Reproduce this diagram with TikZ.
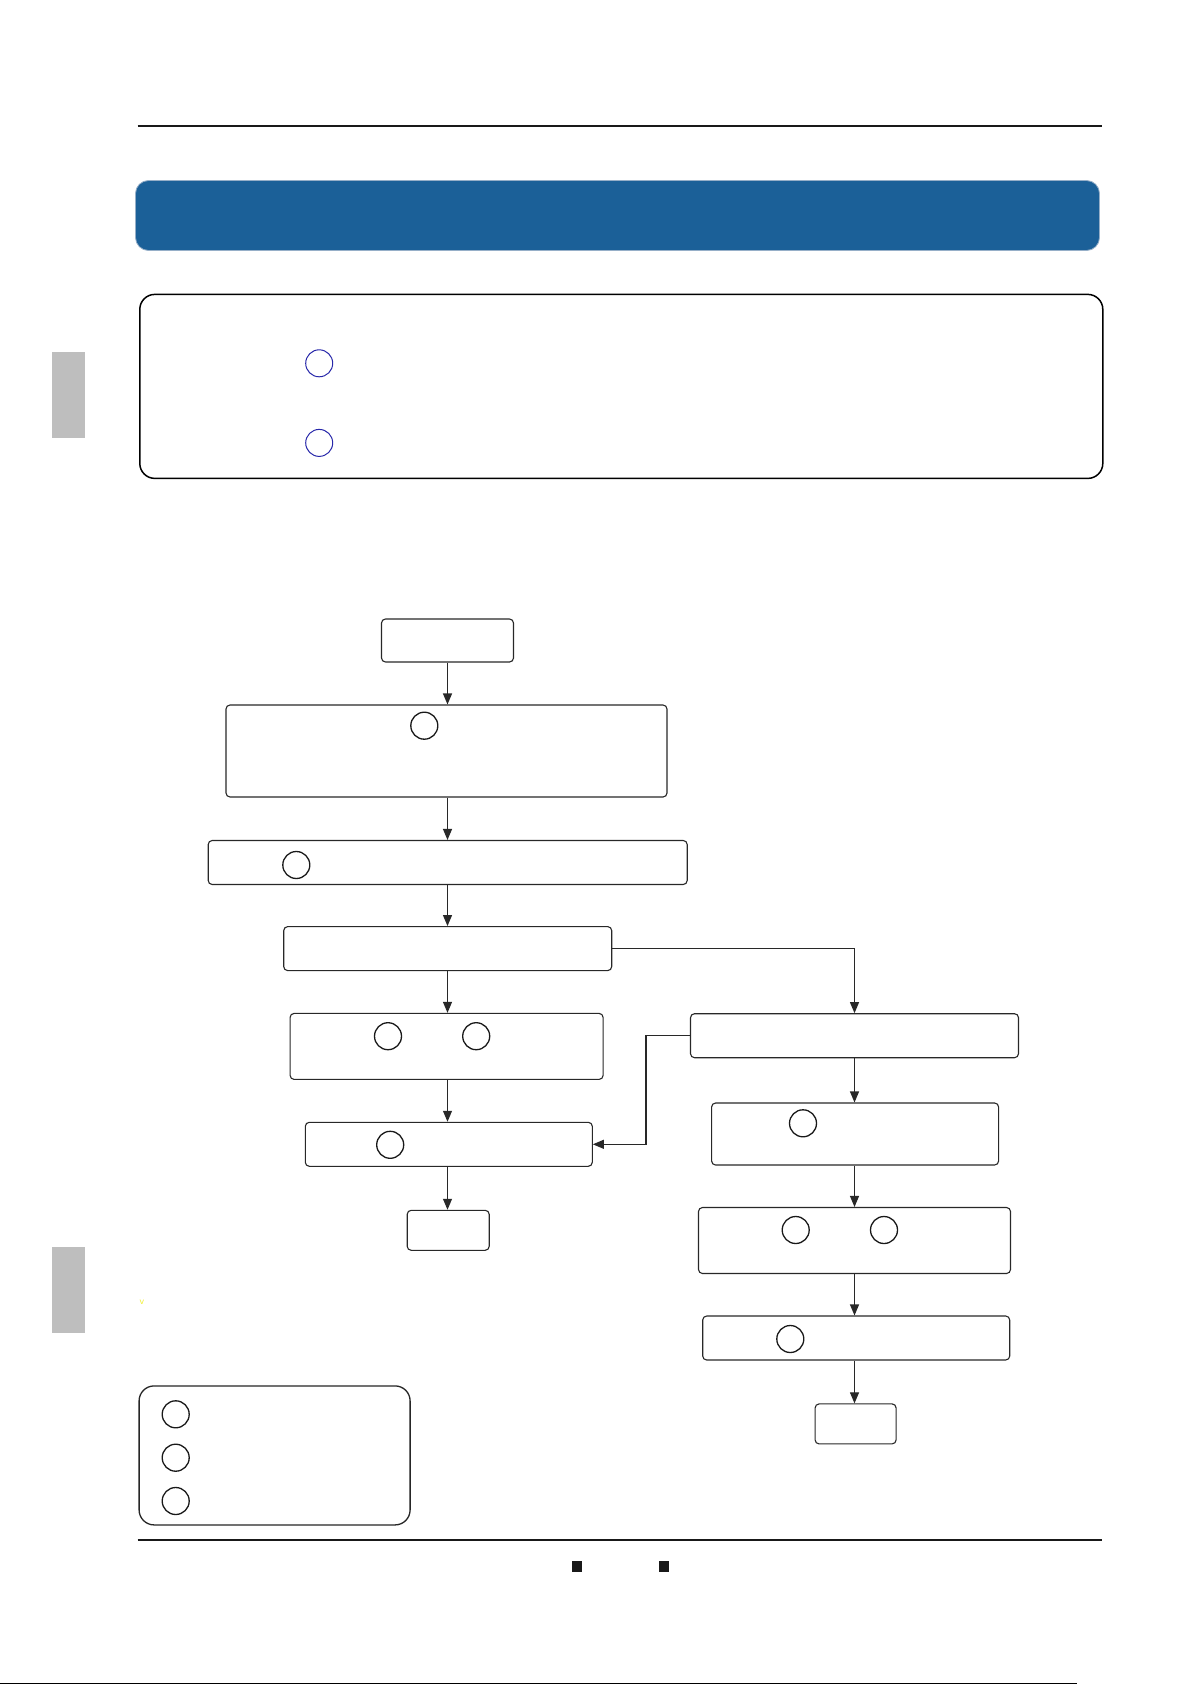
\documentclass[tikz,border=0pt]{standalone}
\usetikzlibrary{arrows.meta}
\definecolor{banner}{RGB}{27,96,152}
\definecolor{bannerrim}{RGB}{150,175,200}
\definecolor{tabgray}{RGB}{190,190,190}
\definecolor{linegray}{RGB}{40,40,40}
\definecolor{ringblue}{RGB}{40,40,170}
\definecolor{markyellow}{RGB}{240,240,40}
\tikzset{
  fbox/.style={draw=linegray, line width=1.1pt, rounded corners=4pt, inner sep=0pt, fill=white},
  ring/.style={draw=black!90, line width=1.3pt, circle, minimum size=27pt, inner sep=0pt},
  bluering/.style={draw=ringblue, line width=1pt, circle, minimum size=27pt, inner sep=0pt},
  arr/.style={draw=linegray, line width=1.1pt, -{Triangle[length=11pt,width=9pt]}},
  rulestyle/.style={draw=black!90, line width=1.6pt},
}
\begin{document}
\begin{tikzpicture}[x=1pt,y=-1pt]
\useasboundingbox (0,0) rectangle (1192,1685);
\fill[white] (0,0) rectangle (1192,1685);
% header rule
\draw[rulestyle] (137.6,125.8) -- (1101.8,125.8);
% banner
\node[fill=banner, draw=bannerrim, line width=0.8pt, rounded corners=13pt, minimum width=964pt, minimum height=70pt, inner sep=0pt] (banner) at (617.5,215.5) {};
% info box
\node[draw=black, line width=1.5pt, rounded corners=15pt, minimum width=963pt, minimum height=184pt, inner sep=0pt] (info) at (621.3,386.4) {};
\node[bluering] (ib1) at (319.2,363.3) {};
\node[bluering] (ib2) at (319.2,442.9) {};
% side tabs
\fill[tabgray] (51.6,351.5) rectangle (84.9,437.5);
\fill[tabgray] (51.6,1246.9) rectangle (84.9,1332.9);
% tiny yellow mark
\node[text=markyellow, font=\sffamily\fontsize{10}{10}\selectfont, inner sep=0pt] (ymark) at (142,1302.5) {v};
% flowchart boxes
\node[fbox, minimum width=132pt, minimum height=43pt] (start) at (447.5,640.5) {};
\node[fbox, minimum width=441pt, minimum height=92pt] (b2) at (446.5,751) {};
\node[ring] (c2) at (424.3,725.7) {};
\node[fbox, minimum width=479pt, minimum height=44pt] (b3) at (447.7,862.5) {};
\node[ring] (c3) at (296.3,865) {};
\node[fbox, minimum width=328pt, minimum height=44pt] (b4) at (447.7,948.6) {};
\node[fbox, minimum width=313pt, minimum height=66pt] (b5) at (446.6,1046.4) {};
\node[ring] (c5a) at (388,1036.2) {};
\node[ring] (c5b) at (476.2,1036.2) {};
\node[fbox, minimum width=287pt, minimum height=44pt] (b6) at (448.8,1144.3) {};
\node[ring] (c6) at (390.2,1144.8) {};
\node[fbox, minimum width=82pt, minimum height=40pt] (endL) at (448.2,1230.3) {};
\node[fbox, minimum width=328pt, minimum height=44pt] (b7) at (854.5,1035.7) {};
\node[fbox, minimum width=287pt, minimum height=62pt] (b8) at (855.1,1134) {};
\node[ring] (c8) at (803,1123.3) {};
\node[fbox, minimum width=312pt, minimum height=66pt] (b9) at (854.5,1240.5) {};
\node[ring] (c9a) at (795.7,1230) {};
\node[ring] (c9b) at (884,1230) {};
\node[fbox, minimum width=307pt, minimum height=44pt] (b10) at (856.2,1338) {};
\node[ring] (c10) at (790.3,1339) {};
\node[fbox, minimum width=81pt, minimum height=40pt] (endR) at (855.6,1423.9) {};
% connectors
\draw[arr] (start.south) -- (start.south |- b2.north);
\draw[arr] (b2.south -| start.south) -- (start.south |- b3.north);
\draw[arr] (b3.south -| start.south) -- (start.south |- b4.north);
\draw[arr] (b4.south -| start.south) -- (start.south |- b5.north);
\draw[arr] (b5.south -| start.south) -- (start.south |- b6.north);
\draw[arr] (b6.south -| start.south) -- (start.south |- endL.north);
\draw[arr] (b4.east) -| (b7.north);
\coordinate (bend) at (646,1035.7);
\draw[arr] (b7.west) -- (bend) |- (b6.east);
\draw[arr] (b7.south) -- (b7.south |- b8.north);
\draw[arr] (b8.south -| b7.south) -- (b7.south |- b9.north);
\draw[arr] (b9.south -| b7.south) -- (b7.south |- b10.north);
\draw[arr] (b10.south -| b7.south) -- (b7.south |- endR.north);
% legend box
\node[draw=black!85, line width=1.3pt, rounded corners=15pt, minimum width=271pt, minimum height=139pt, inner sep=0pt] (legend) at (274.6,1455.4) {};
\node[ring] (l1) at (175.7,1414.3) {};
\node[ring] (l2) at (175.7,1457.7) {};
\node[ring] (l3) at (175.7,1501) {};
% footer rule
\draw[rulestyle, line width=2pt] (137.6,1540.3) -- (1101.8,1540.3);
\fill[black!90] (572,1561) rectangle (582,1571.5);
\fill[black!90] (659,1561) rectangle (669,1571.5);
% bottom edge line
\draw[black, line width=1.2pt] (0,1683.5) -- (1077,1683.5);
\end{tikzpicture}
\end{document}
